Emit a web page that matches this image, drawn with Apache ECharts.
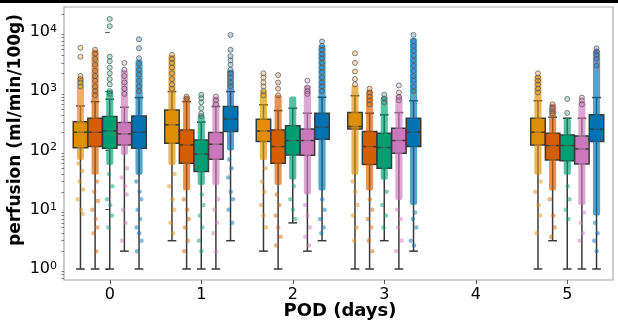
<!DOCTYPE html>
<html><head><meta charset="utf-8">
<script src="https://cdn.jsdelivr.net/npm/echarts@6/dist/echarts.min.js"></script>
<style>html,body{margin:0;padding:0;background:#fff}#c{width:618px;height:323px}</style>
</head><body><div id="c"></div>
<script>
// ---------------- DATA ----------------
const PODS = ['0', '1', '2', '3', '4', '5'];
const Y_TICKS = [1, 10, 100, 1000, 10000];
const COLORS = ['#DE8F05', '#D55E00', '#029E73', '#CC78BC', '#0173B2'];

// box stats: [pod, whiskerLow, q1, median, q3, whiskerHigh]
const box0 = [[0, 1, 111, 203, 306, 564], [1, 3, 132, 270, 480, 985], [2, 2, 141, 213, 335, 590], [3, 1, 230, 253, 435, 840], [5, 1, 124, 203, 350, 690]];
const box1 = [[0, 1, 116, 203, 350, 665], [1, 1, 61, 124, 222, 665], [2, 1, 61, 116, 222, 470], [3, 1, 58, 116, 208, 425], [5, 3, 69, 121, 195, 363]];
const box2 = [[0, 1, 109, 213, 372, 731], [1, 1, 44, 87, 150, 300], [2, 6, 84, 147, 260, 515], [3, 3, 50, 112, 195, 400], [5, 1, 67, 121, 183, 350]];
const box3 = [[0, 2, 124, 190, 295, 535], [1, 1, 71, 127, 200, 550], [2, 2, 83, 147, 229, 425], [3, 1, 90, 147, 237, 435], [5, 1, 59, 106, 176, 350]];
const box4 = [[0, 1, 109, 203, 381, 780], [1, 3, 208, 340, 550, 985], [2, 3, 155, 245, 425, 790], [3, 2, 116, 203, 350, 690], [5, 1, 141, 228, 400, 780]];

// outliers (fliers): [pod, [values]]
const fl0 = [[0, [5400, 3800, 1800, 1600, 1400, 1200]], [1, [4100, 3500, 3000, 2500, 2000, 1600, 1300, 1100]], [2, [2000, 1700, 1400, 1200, 1000, 850]], [3, [4350, 3000, 2150, 1600, 1300]], [5, [2000, 1700, 1500, 1300, 1100, 950]]];
const fl1 = [[0, [5000, 4300, 3500, 2800, 2200, 1800, 1500, 1200, 1000, 850]], [1, [810, 750]], [2, [1870, 1400, 1100, 850]], [3, [1100, 950, 800, 700, 600]], [5, [600, 520, 460, 420]]];
const fl2 = [[0, [16500, 12500, 3800, 3200, 2500, 2000, 1600, 1300, 1000, 900]], [1, [870, 760, 650, 520, 420, 380]], [2, []], [3, [870, 750, 650]], [5, [740, 430]]];
const fl3 = [[0, [3000, 2300, 1800, 1400, 1100, 900]], [1, [810, 700, 600]], [2, [1500, 1150, 1000, 900]], [3, [1250, 950, 800, 700]], [5, [780, 700, 600]]];
const fl4 = [[0, [7500, 5300, 3600, 2900, 2300, 1900, 1500, 1200, 1000]], [1, [8900, 5000, 3900, 3300, 2800, 2300, 2000, 1700, 1400, 1200]], [2, [6900, 5800, 5000, 4200, 3600, 3000, 2500, 2100, 1700, 1400, 1200, 1000]], [3, [8900, 7000, 5800, 4800, 4000, 3300, 2700, 2200, 1800, 1500, 1200, 1000]], [5, [5300, 4700, 4100, 3500, 2700]]];

// strip points: dense range [pod, low, high]
const dense0 = [[0, 69, 1740], [1, 57, 4100], [2, 69, 1050], [3, 39, 1250], [5, 39, 1870]];
const dense1 = [[0, 39, 5000], [1, 21, 810], [2, 26, 865], [3, 21, 1050], [5, 21, 610]];
const dense2 = [[0, 57, 1050], [1, 26, 400], [2, 32, 810], [3, 32, 810], [5, 39, 350]];
const dense3 = [[0, 84, 2300], [1, 26, 810], [2, 18, 1250], [3, 14.6, 865], [5, 12, 690]];
const dense4 = [[0, 39, 3400], [1, 100, 2300], [2, 21, 6000], [3, 12, 7900], [5, 8, 5000]];
// strip points: sparse tail [pod, [values]]
const tail0 = [[0, [60, 45, 30, 22, 15, 10, 8.5]], [1, [40, 25, 15, 10, 6, 4]], [2, [50, 30, 20, 12, 8, 5]], [3, [30, 20, 12, 8, 5, 3]], [5, [30, 20, 12, 8, 4]]];
const tail1 = [[0, [30, 20, 14, 10, 7, 5, 4, 2]], [1, [15, 10, 7, 5, 3, 2]], [2, [18, 12, 8, 5, 3.5, 2.5]], [3, [15, 10, 7, 5, 3, 2]], [5, [15, 8, 5, 3.5]]];
const tail2 = [[0, [40, 25, 15, 12, 8, 5]], [1, [18, 12, 8, 5, 3, 2]], [2, [25, 15, 10, 7]], [3, [20, 12, 8, 5]], [5, [25, 15, 10, 7]]];
const tail3 = [[0, [50, 35, 25, 18, 10, 6, 3]], [1, [15, 10, 6, 4, 2]], [2, [12, 8, 5, 3.5, 2.5]], [3, [10, 7, 5, 3, 2]], [5, [9, 6, 4, 3]]];
const tail4 = [[0, [30, 20, 15, 10, 7, 5, 4, 3, 2]], [1, [70, 50, 35, 20, 15, 10, 6]], [2, [15, 10, 7, 5, 4]], [3, [9, 7, 5, 3, 2.5]], [5, [6, 4, 3, 2]]];

// ---------------- LAYOUT / STYLE ----------------
const BOXES = [box0, box1, box2, box3, box4];
const FLIERS = [fl0, fl1, fl2, fl3, fl4];
const DENSE = [dense0, dense1, dense2, dense3, dense4];
const TAILS = [tail0, tail1, tail2, tail3, tail4];
const OFFSETS = [-0.32, -0.16, 0, 0.16, 0.32];
const BOX_W = 0.158, CAP_W = 0.095, STRIP_W = 0.078;
const JITTER = [-0.022, 0.018, -0.008, 0.03, -0.03, 0.006, 0.024, -0.016, 0.012, -0.026, 0.002, 0.028];
const EDGE = '#3a3a3a';
const FONT = 'DejaVu Sans';

function hexA(hex, a) {
  const n = parseInt(hex.slice(1), 16);
  return `rgba(${(n >> 16) & 255},${(n >> 8) & 255},${n & 255},${a})`;
}

const series = [];
BOXES.forEach((boxes, g) => {
  const col = COLORS[g];
  series.push({
    type: 'custom', xAxisIndex: 1, yAxisIndex: 0, z: 2,
    data: boxes.map(b => [b[0] + OFFSETS[g], b[1], b[2], b[3], b[4], b[5]]),
    encode: { x: 0, y: [1, 2, 3, 4, 5] },
    renderItem: (params, api) => {
      const x = api.value(0);
      const lo = api.coord([x, api.value(1)]);
      const q1 = api.coord([x, api.value(2)]);
      const md = api.coord([x, api.value(3)]);
      const q3 = api.coord([x, api.value(4)]);
      const hi = api.coord([x, api.value(5)]);
      const hw = api.size([BOX_W, 1])[0] / 2;
      const cw = api.size([CAP_W, 1])[0] / 2;
      const cx = lo[0];
      const st = { stroke: EDGE, lineWidth: 1.5 };
      return {
        type: 'group', children: [
          { type: 'line', shape: { x1: cx, y1: lo[1], x2: cx, y2: q1[1] }, style: st },
          { type: 'line', shape: { x1: cx, y1: q3[1], x2: cx, y2: hi[1] }, style: st },
          { type: 'line', shape: { x1: cx - cw, y1: lo[1], x2: cx + cw, y2: lo[1] }, style: st },
          { type: 'line', shape: { x1: cx - cw, y1: hi[1], x2: cx + cw, y2: hi[1] }, style: st },
          { type: 'rect', shape: { x: cx - hw, y: q3[1], width: 2 * hw, height: q1[1] - q3[1] }, style: { fill: col, stroke: EDGE, lineWidth: 1.5 } },
          { type: 'line', shape: { x1: cx - hw, y1: md[1], x2: cx + hw, y2: md[1] }, style: st }
        ]
      };
    }
  });
  // fliers
  const fd = [];
  FLIERS[g].forEach(([p, vals]) => vals.forEach(v => fd.push([p + OFFSETS[g], v])));
  series.push({
    type: 'scatter', xAxisIndex: 1, yAxisIndex: 0, z: 5, symbol: 'circle', symbolSize: 5,
    itemStyle: { color: hexA(col, 0.35), borderColor: '#555', borderWidth: 0.9 },
    data: fd, silent: true
  });
  // dense strip band
  series.push({
    type: 'custom', xAxisIndex: 1, yAxisIndex: 0, z: 4,
    data: DENSE[g].map(d => [d[0] + OFFSETS[g], d[1], d[2]]),
    encode: { x: 0, y: [1, 2] },
    renderItem: (params, api) => {
      const x = api.value(0);
      const a = api.coord([x, api.value(1)]);
      const b = api.coord([x, api.value(2)]);
      const w = api.size([STRIP_W, 1])[0];
      return { type: 'rect', shape: { x: a[0] - w / 2, y: b[1], width: w, height: a[1] - b[1], r: 2 }, style: { fill: hexA(col, 0.66) } };
    }
  });
  // tail strip points
  const td = [];
  TAILS[g].forEach(([p, vals]) => vals.forEach((v, i) => td.push([p + OFFSETS[g] + JITTER[(i + p * 3 + g) % JITTER.length], v])));
  series.push({
    type: 'scatter', xAxisIndex: 1, yAxisIndex: 0, z: 4, symbol: 'circle', symbolSize: 4.5,
    itemStyle: { color: hexA(col, 0.6) }, data: td, silent: true
  });
});

const MINOR = [];
[0.1, 1, 10, 100, 1000, 10000].forEach(d => { for (let k = 2; k <= 9; k++) { const v = d * k; if (v > 0.65 && v < 26300) MINOR.push(v); } });

const chart = echarts.init(document.getElementById('c'), null, { renderer: 'canvas' });
chart.setOption({
  animation: false,
  backgroundColor: '#fff',
  grid: { left: 64, right: 5, top: 7, bottom: 43, show: true, borderColor: '#a8a8a8', borderWidth: 1.2, containLabel: false },
  xAxis: [
    {
      type: 'category', data: PODS, boundaryGap: true,
      axisLine: { show: false },
      axisTick: { show: true, alignWithLabel: true, length: 4, lineStyle: { color: '#555' } },
      axisLabel: { color: '#000', fontSize: 16, fontFamily: FONT, margin: 7 }
    },
    { type: 'value', min: -0.5, max: 5.5, show: false }
  ],
  yAxis: [
    {
      type: 'log', logBase: 10, min: 0.652, max: 26300,
      axisLine: { show: false }, splitLine: { show: false },
      axisTick: { show: true, customValues: Y_TICKS, length: 4.5, lineStyle: { color: '#555' } },
      axisLabel: {
        customValues: Y_TICKS, margin: 7,
        formatter: v => '{b|10}{s|' + Math.round(Math.log10(v)) + '}',
        rich: {
          b: { fontSize: 16, fontFamily: FONT, color: '#000' },
          s: { fontSize: 11, fontFamily: FONT, color: '#000', verticalAlign: 'top', padding: [0, 0, 6, 0] }
        }
      }
    },
    {
      type: 'log', logBase: 10, min: 0.652, max: 26300, position: 'left',
      axisLine: { show: false }, splitLine: { show: false },
      axisLabel: { show: false },
      axisTick: { show: true, customValues: MINOR, length: 2.5, lineStyle: { color: '#777' } }
    }
  ],
  graphic: [
    { type: 'rect', shape: { x: 0, y: 0, width: 618, height: 3 }, style: { fill: '#000' } },
    { type: 'text', x: 16, y: 130, rotation: Math.PI / 2, style: { text: 'perfusion (ml/min/100g)', font: 'bold 17px "DejaVu Sans"', fill: '#000', align: 'center', verticalAlign: 'middle' } },
    { type: 'text', x: 340, y: 311, style: { text: 'POD (days)', font: 'bold 18px "DejaVu Sans"', fill: '#000', align: 'center', verticalAlign: 'middle' } }
  ],
  series: series
});
</script></body></html>
